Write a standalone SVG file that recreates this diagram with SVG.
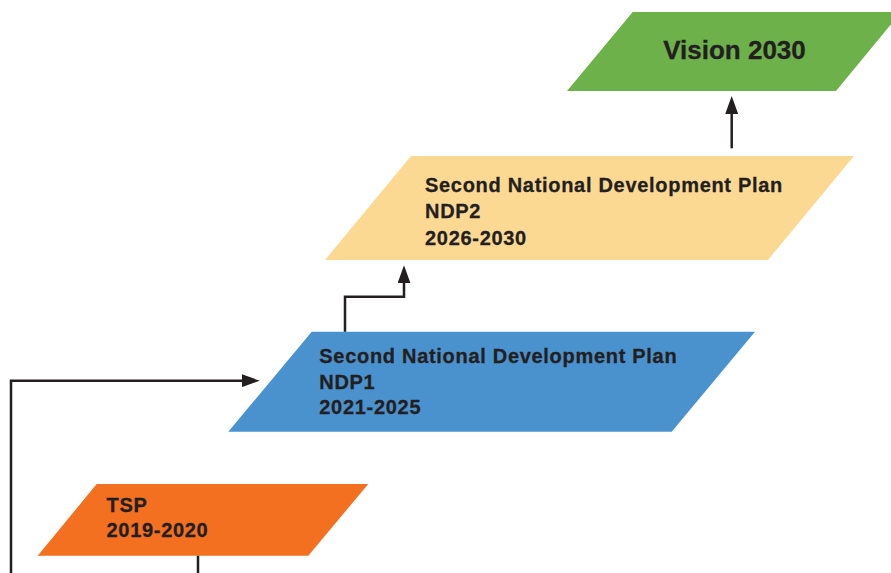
<svg xmlns="http://www.w3.org/2000/svg" width="891" height="573" viewBox="0 0 891 573">
  <style>
    .lbl { font-family: "Liberation Sans", Arial, Helvetica, sans-serif; font-weight: bold; font-size: 20px; letter-spacing: 0.7px; fill: #231f20; stroke: #231f20; stroke-width: 0.3px; }
    .big { font-family: "Liberation Sans", Arial, Helvetica, sans-serif; font-weight: bold; font-size: 26px; fill: #231f20; stroke: #231f20; stroke-width: 0.3px; }
    .conn { fill: none; stroke: #231f20; stroke-width: 2.5; marker-end: url(#arrow); }
  </style>
  <defs>
    <marker id="arrow" viewBox="0 0 18 13" refX="1" refY="6.5" markerWidth="18" markerHeight="13" markerUnits="userSpaceOnUse" orient="auto">
      <path d="M0,0 L18,6.5 L0,13 Z" fill="#231f20"/>
    </marker>
  </defs>
  <rect width="891" height="573" fill="#ffffff"/>

  <g id="vision2030">
    <polygon points="632.7,12 901,12 836,91 567,91" fill="#6cb14a"/>
    <text class="big" x="734.5" y="59.3" text-anchor="middle">Vision 2030</text>
  </g>

  <g id="ndp2">
    <polygon points="411,156 854,156 768,260 325,260" fill="#fcd993"/>
    <text class="lbl" x="425" y="192">Second National Development Plan</text>
    <text class="lbl" x="425" y="218">NDP2</text>
    <text class="lbl" x="425" y="244.5">2026-2030</text>
  </g>

  <g id="ndp1">
    <polygon points="311.7,331.7 755,331.7 671.7,431.7 228.3,431.7" fill="#4a92ce"/>
    <text class="lbl" x="319.3" y="363.3">Second National Development Plan</text>
    <text class="lbl" x="319.3" y="388.5">NDP1</text>
    <text class="lbl" x="319.3" y="414">2021-2025</text>
  </g>

  <g id="tsp">
    <polygon points="96.7,484 368.3,484 308.3,555.7 37.7,555.7" fill="#f37021"/>
    <text class="lbl" x="106.5" y="511.7">TSP</text>
    <text class="lbl" x="106.5" y="536.7">2019-2020</text>
  </g>

  <g id="connectors">
    <path class="conn" d="M198,555.7 V600 H11 V380.7 H242.7"/>
    <path class="conn" d="M345,331.7 V296.7 H404 V282.3"/>
    <path class="conn" d="M731.7,148.3 V113"/>
  </g>
</svg>
